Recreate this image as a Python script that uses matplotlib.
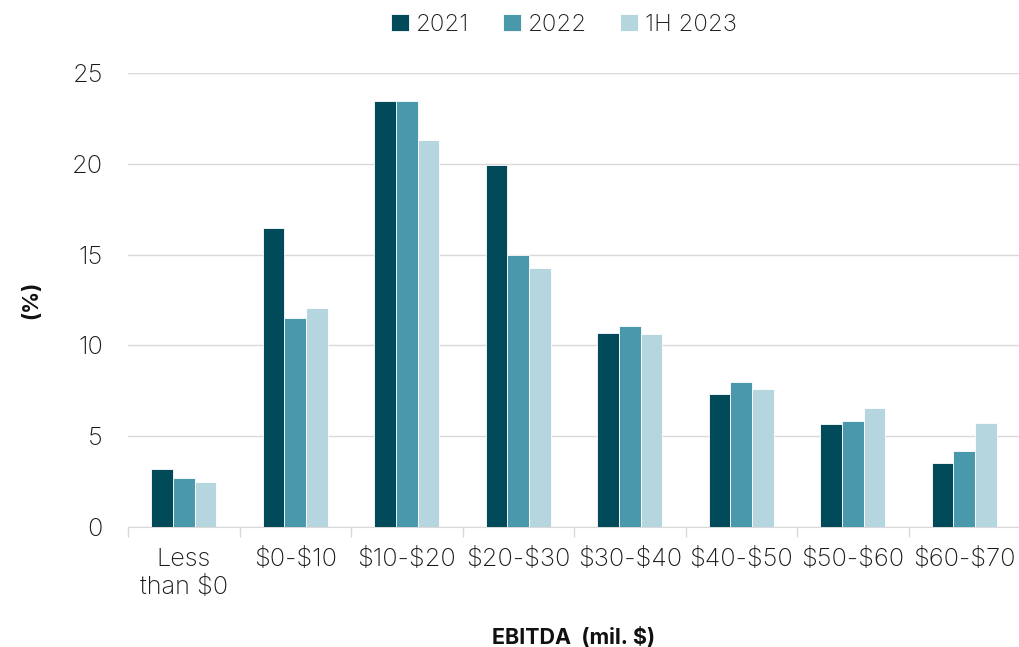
import numpy as np
import matplotlib.pyplot as plt

categories = ["Less\nthan \\$0", "\\$0-\\$10", "\\$10-\\$20", "\\$20-\\$30",
              "\\$30-\\$40", "\\$40-\\$50", "\\$50-\\$60", "\\$60-\\$70"]
y2021 = [3.2, 16.45, 23.45, 19.95, 10.7, 7.3, 5.65, 3.5]
y2022 = [2.7, 11.5, 23.45, 15.0, 11.05, 8.0, 5.85, 4.2]
y1h2023 = [2.5, 12.05, 21.3, 14.25, 10.65, 7.6, 6.55, 5.75]
series = [("2021", y2021, "#004a5a"),
          ("2022", y2022, "#4a98ab"),
          ("1H 2023", y1h2023, "#b5d6de")]

plt.rcParams["font.family"] = ["Inter", "DejaVu Sans"]

fig = plt.figure(figsize=(10.2, 6.47), dpi=100)
ax = fig.add_axes([0.1255, 0.1855, 0.8745, 0.7015])

x = np.arange(len(categories))
w = 0.195
for i, (name, vals, color) in enumerate(series):
    ax.bar(x + (i - 1) * w, vals, w, color=color, label=name,
           edgecolor="white", linewidth=0.6, zorder=3)

ax.set_xlim(-0.5, len(categories) - 0.5)
ax.set_ylim(0, 25)
ax.set_yticks([0, 5, 10, 15, 20, 25])
ax.grid(axis="y", color="#d9d9d9", linewidth=1, zorder=0)

# category boundary ticks
ax.set_xticks(np.arange(len(categories) + 1) - 0.5)
ax.set_xticklabels([])
ax.set_xticks(x, minor=True)
ax.set_xticklabels(categories, minor=True, fontsize=18.3, fontweight="light",
                   color="#1a1a1a", linespacing=1.3)
ax.tick_params(axis="x", which="minor", length=0, pad=15)
ax.tick_params(axis="x", which="major", length=7, color="#d9d9d9", width=1)
ax.tick_params(axis="y", length=0, pad=18, labelsize=18.3, labelcolor="#1a1a1a")
for lbl in ax.get_yticklabels():
    lbl.set_fontweight("light")

for s in ["top", "right", "left"]:
    ax.spines[s].set_visible(False)
ax.spines["bottom"].set_color("#d9d9d9")

ax.set_xlabel("EBITDA  (mil. \\$)", fontsize=15.5, fontweight="bold", labelpad=20,
              color="#111111")
ax.set_ylabel("(%)", fontsize=15.5, fontweight="bold", labelpad=22, color="#111111")

leg = fig.legend(loc="upper center", bbox_to_anchor=(0.553, 1.012), ncol=3,
                 frameon=False, fontsize=17.2, handlelength=0.75, handleheight=0.75,
                 handletextpad=0.3, columnspacing=1.4)
for t in leg.get_texts():
    t.set_fontweight("light")
    t.set_color("#1a1a1a")

fig.savefig("out.png", dpi=100)
